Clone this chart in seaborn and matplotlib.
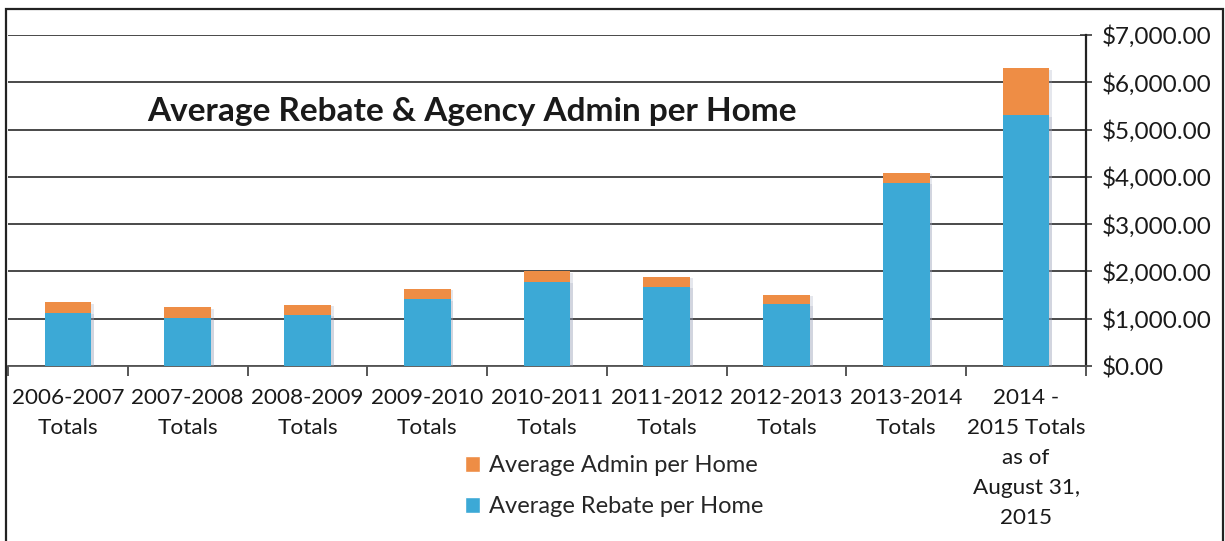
import matplotlib
matplotlib.use("Agg")
import matplotlib.pyplot as plt
import matplotlib.patheffects as pe
from matplotlib.patches import Patch, Rectangle
from matplotlib.ticker import FuncFormatter, FixedLocator
import seaborn as sns
import pandas as pd

# Fiscal-year categories and per-home averages (USD)
categories = [
    "2006-2007\nTotals", "2007-2008\nTotals", "2008-2009\nTotals",
    "2009-2010\nTotals", "2010-2011\nTotals", "2011-2012\nTotals",
    "2012-2013\nTotals", "2013-2014\nTotals",
    "2014 -\n2015 Totals\nas of\nAugust 31,\n2015",
]
rebate_per_home = [1126, 1021, 1077, 1413, 1776, 1676, 1303, 3873, 5298]
admin_per_home = [224, 224, 223, 223, 224, 204, 204, 212, 997]

y_ticks = [0, 1000, 2000, 3000, 4000, 5000, 6000, 7000]

df = pd.DataFrame({
    "period": categories,
    "rebate": rebate_per_home,
    "admin": admin_per_home,
})
df["total"] = df["rebate"] + df["admin"]

ORANGE = "#EE8D45"
BLUE = "#3CA9D6"
GRID = "#3A3A3A"
FONT = "Lato"

sns.set_theme(style="white")
plt.rcParams["font.family"] = [FONT, "DejaVu Sans"]

W, H = 1225, 541
fig = plt.figure(figsize=(W / 100, H / 100), dpi=100)
ax = fig.add_axes([8 / W, 1 - 366 / H, (1086 - 8) / W, (366 - 35) / H])

shadow = [pe.SimplePatchShadow(offset=(2, -1), shadow_rgbFace="#9aa0b8", alpha=0.25), pe.Normal()]

# Stacked bars: total (admin on top) drawn first, rebate drawn over it
sns.barplot(data=df, x="period", y="total", color=ORANGE, saturation=1,
            width=0.39, ax=ax, zorder=3)
sns.barplot(data=df, x="period", y="rebate", color=BLUE, saturation=1,
            width=0.39, ax=ax, zorder=4)
for p in ax.patches:
    p.set_path_effects(shadow)
    p.set_linewidth(0)

ax.set_xlim(-0.5, len(categories) - 0.5)
ax.set_ylim(0, 7000)
ax.set_xlabel("")
ax.set_ylabel("")

# Horizontal gridlines
ax.yaxis.set_major_locator(FixedLocator(y_ticks))
ax.grid(axis="y", color=GRID, linewidth=1.3, zorder=0)
ax.grid(axis="x", visible=False)
ax.set_axisbelow(True)

# Right-hand value axis
ax.yaxis.tick_right()
ax.yaxis.set_major_formatter(FuncFormatter(lambda v, _: f"${v:,.2f}"))
ax.tick_params(axis="y", which="major", direction="inout", length=9,
               width=1.2, color=GRID, pad=7, labelsize=17.5,
               labelcolor="#1a1a1a", left=False, right=True)

# Category axis: labels centred, ticks at category boundaries
ax.set_xticks(range(len(categories)))
ax.set_xticklabels(categories, linespacing=1.62)
ax.xaxis.set_minor_locator(FixedLocator([i - 0.5 for i in range(len(categories) + 1)]))
ax.tick_params(axis="x", which="major", length=0, pad=16, labelsize=16.2,
               labelcolor="#1a1a1a")
ax.tick_params(axis="x", which="minor", direction="out", length=7,
               width=1.2, color=GRID, bottom=True)

for side in ["left", "top"]:
    ax.spines[side].set_visible(False)
ax.spines["bottom"].set_color("#555555")
ax.spines["bottom"].set_linewidth(1.3)
ax.spines["right"].set_color("#222222")
ax.spines["right"].set_linewidth(1.6)

# Title inside the plot area
fig.text(147 / W, 1 - 112 / H, "Average Rebate & Agency Admin per Home",
         ha="left", va="center", fontsize=24, fontweight="bold",
         color="#1a1a1a")

# Legend below the category labels
handles = [Patch(facecolor=ORANGE, label="Average Admin per Home"),
           Patch(facecolor=BLUE, label="Average Rebate per Home")]
fig.legend(handles=handles, loc="upper left",
           bbox_to_anchor=(465 / W, 1 - 455 / H), frameon=False,
           fontsize=17, handlelength=0.65, handleheight=0.65,
           handletextpad=0.35, labelspacing=0.85, borderpad=0,
           borderaxespad=0)

# Outer chart frame
fig.patches.append(Rectangle((6 / W, -0.05), (1223 - 6) / W, 1.05 - 9 / H,
                             transform=fig.transFigure, fill=False,
                             edgecolor="#222222", linewidth=1.6))

fig.savefig("out.png", dpi=100)
